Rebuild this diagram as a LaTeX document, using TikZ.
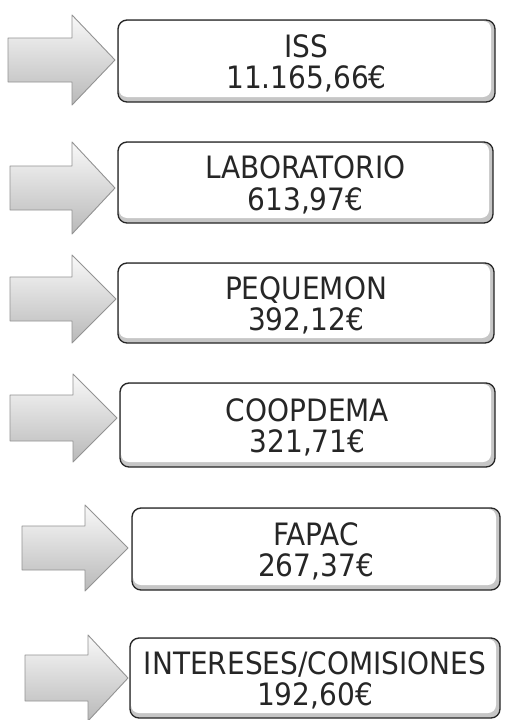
\documentclass[tikz,border=0pt]{standalone}
\usepackage{fontspec}
\usepackage{graphicx}
\setmainfont{DejaVu Sans}
\begin{document}
\begin{tikzpicture}[x=1pt,y=-1pt,
  arrowshape/.style={draw=gray!85,line width=0.9pt,top color=gray!5,bottom color=gray!55,line join=round},
  boxshadow/.style={fill=gray!45,rounded corners=9pt},
  boxface/.style={fill=white,rounded corners=8pt},
  boxline/.style={draw=black!85,line width=1.3pt,rounded corners=9pt},
  label/.style={font=\fontsize{28}{27}\selectfont,text=black!85,inner sep=0pt}]
\useasboundingbox (0,0) rectangle (509,720);
\fill[white] (0,0) rectangle (509,720);
% rows: id / shaft left / head base / tip / center y / shaft half / head half / box l / box r / box t / box b / line 1 / line 2
\foreach \i/\xl/\xb/\xt/\yc/\sh/\hh/\bl/\br/\bt/\bb/\la/\lb in {
  1/8/72/115/60/22/45/118/495/20/102/ISS/{11.165,66€},
  2/10/72/115/188/22/46/118/493/142/223/LABORATORIO/{613,97€},
  3/10/72/116/299/22/44/118/494/263/343/PEQUEMON/{392,12€},
  4/10/73/117/418/23/44/120/495/383/467/COOPDEMA/{321,71€},
  5/22/85/128/548/22/43/132/500/508/590/FAPAC/{267,37€},
  6/25/88/128/678/23/43/130/500/638/718/{INTERESES/COMISIONES}/{192,60€}}{
  \draw[arrowshape] (\xl,\yc-\sh) -- (\xb,\yc-\sh) -- (\xb,\yc-\hh) -- (\xt,\yc)
     -- (\xb,\yc+\hh) -- (\xb,\yc+\sh) -- (\xl,\yc+\sh) -- cycle;
  \fill[boxshadow] (\bl,\bt) rectangle (\br,\bb);
  \fill[boxface] (\bl+1,\bt+1) rectangle (\br-4,\bb-5);
  \draw[boxline] (\bl,\bt) rectangle (\br,\bb);
  \node[label] (t\i) at ({(\bl+\br)/2},{(\bt+\bb)/2+5}) {\scalebox{1}[1.1]{\begin{tabular}{@{}c@{}}\la\\\lb\end{tabular}}};
}
\end{tikzpicture}
\end{document}
